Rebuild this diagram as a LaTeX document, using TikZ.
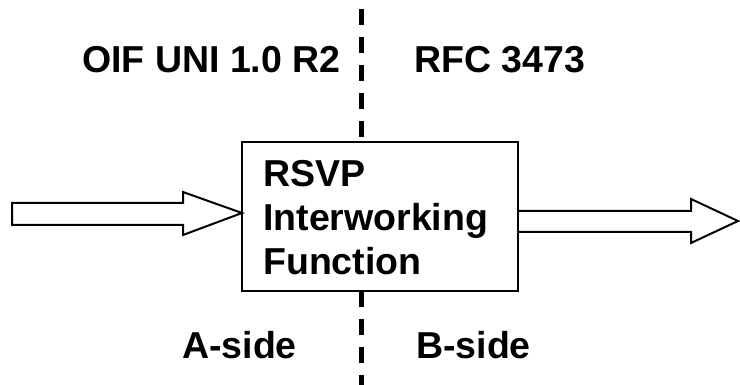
\documentclass[tikz,border=0pt]{standalone}
\usepackage{fontspec}
\setmainfont{Liberation Sans}
\usetikzlibrary{calc}
\begin{document}
\begin{tikzpicture}[x=1pt,y=-1pt,
  lbl/.style={anchor=base west, inner sep=0pt, font=\fontsize{37.5}{44}\selectfont\bfseries},
  funcbox/.style={draw, line width=2pt, outer sep=0pt, inner sep=0pt,
                  minimum width=276pt, minimum height=149pt},
  blockarrow/.style={draw, line width=2pt, line join=miter},
  divider/.style={line width=5pt, dash pattern=on 16pt off 12pt}]
\useasboundingbox (0,0) rectangle (740,385);

% interworking function box
\node[funcbox] (box) at (380,216.5) {};

% boundary between the two sides
\coordinate (dtop) at (361,9);
\coordinate (dbot) at (361,385);
\draw[divider] (dtop) -- (dtop |- box.north);
\draw[divider] (dtop |- box.south) -- (dbot);
\draw[line width=2pt] (box.north west) rectangle (box.south east);

% box text
\node[lbl] (rsvp)  at (263,187) {RSVP};
\node[lbl] (inter) at (263,231) {Interworking};
\node[lbl] (func)  at (263,275) {Function};

% side labels
\node[lbl] (oif) at (82,73)   {OIF UNI 1.0 R2};
\node[lbl] (rfc) at (414,73)  {RFC 3473};
\node[lbl] (aside) at (182,358) {A-side};
\node[lbl] (bside) at (416,358) {B-side};

% incoming block arrow
\coordinate (intip) at ($(box.west)+(0,-3.5)$);
\draw[blockarrow] (12,203) -- (183,203) -- (183,192) -- (intip)
  -- (183,235) -- (183,225) -- (12,225) -- cycle;

% outgoing block arrow
\coordinate (outtip) at (738,221);
\draw[blockarrow] (box.east |- 0,211) -- (691,211) -- (691,199) -- (outtip)
  -- (691,243) -- (691,232) -- (box.east |- 0,232);
\end{tikzpicture}
\end{document}
